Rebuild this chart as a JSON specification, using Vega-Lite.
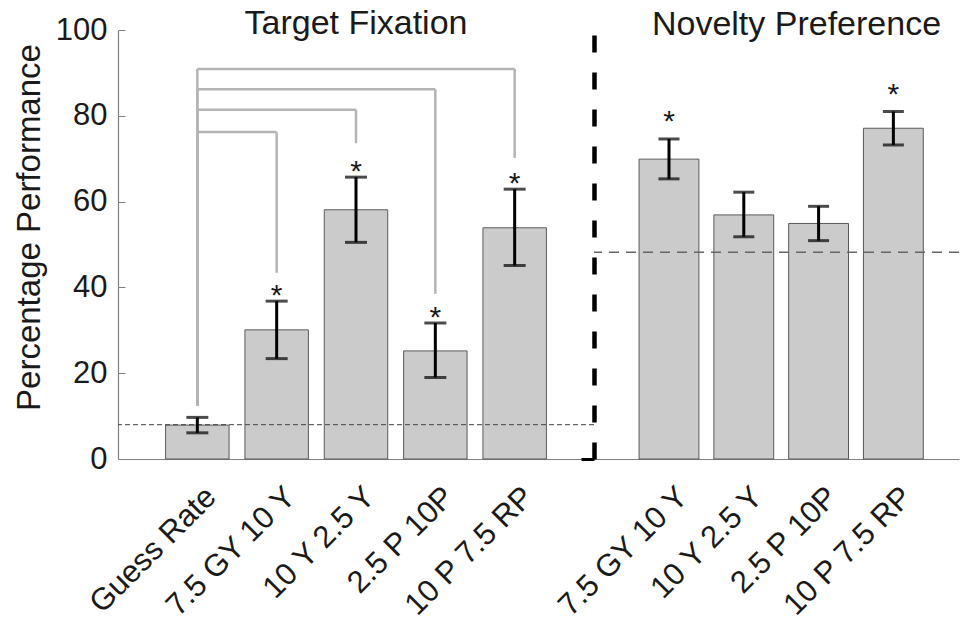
{
  "$schema": "https://vega.github.io/schema/vega-lite/v6.json",
  "padding": {"left": 12, "top": 7, "right": 0, "bottom": 0},
  "background": "white",
  "config": {
    "font": "Liberation Sans",
    "view": {"stroke": null},
    "axis": {"grid": false, "domainColor": "#808080", "domainWidth": 1.2, "labelColor": "#1a1a1a", "titleColor": "#1a1a1a", "labelFont": "Liberation Sans", "titleFont": "Liberation Sans", "titleFontWeight": "normal"},
    "title": {"font": "Liberation Sans", "fontWeight": "normal", "fontSize": 34, "color": "#1a1a1a"}
  },
  "datasets": {
    "tf": [
      {"label": "Guess Rate", "value": 7.9, "lo": 6.1, "hi": 9.7, "sig": false},
      {"label": "7.5 GY 10 Y", "value": 30.1, "lo": 23.4, "hi": 36.8, "sig": true},
      {"label": "10 Y 2.5 Y", "value": 58.1, "lo": 50.5, "hi": 65.7, "sig": true},
      {"label": "2.5 P 10P", "value": 25.2, "lo": 19.0, "hi": 31.7, "sig": true},
      {"label": "10 P 7.5 RP", "value": 53.9, "lo": 45.1, "hi": 62.9, "sig": true}
    ],
    "np": [
      {"label": "7.5 GY 10 Y", "value": 69.9, "lo": 65.3, "hi": 74.6, "sig": true},
      {"label": "10 Y 2.5 Y", "value": 56.9, "lo": 51.8, "hi": 62.2, "sig": false},
      {"label": "2.5 P 10P", "value": 54.9, "lo": 50.9, "hi": 58.9, "sig": false},
      {"label": "10 P 7.5 RP", "value": 77.1, "lo": 73.2, "hi": 81.0, "sig": true}
    ],
    "conn": [
      {"from": "Guess Rate", "to": "7.5 GY 10 Y", "level": 76.2, "end": 43.4, "fromEnd": 12.4},
      {"from": "Guess Rate", "to": "10 Y 2.5 Y", "level": 81.4, "end": 73.6, "fromEnd": 12.4},
      {"from": "Guess Rate", "to": "2.5 P 10P", "level": 86.2, "end": 38.5, "fromEnd": 12.4},
      {"from": "Guess Rate", "to": "10 P 7.5 RP", "level": 90.9, "end": 70.2, "fromEnd": 12.4}
    ],
    "guess": [{"rate": 8.0}],
    "chance": [{"rate": 48.2}]
  },
  "hconcat": [
    {
      "width": 476,
      "height": 429,
      "title": {"text": "Target Fixation", "anchor": "middle", "baseline": "alphabetic", "offset": -54},
      "layer": [
        {
          "data": {"name": "tf"},
          "mark": {"type": "bar", "fill": "#cbcbcb", "stroke": "#5a5a5a", "strokeWidth": 1},
          "encoding": {
            "x": {"field": "label", "type": "nominal", "scale": {"domain": ["Guess Rate", "7.5 GY 10 Y", "10 Y 2.5 Y", "2.5 P 10P", "10 P 7.5 RP"], "paddingInner": 0.2, "paddingOuter": 0.6},
              "axis": {"title": null, "ticks": false, "labelAngle": -45, "labelFontSize": 31, "labelPadding": 33, "labelOffset": 14, "labelAlign": "right", "labelBaseline": "middle"}},
            "y": {"field": "value", "type": "quantitative", "scale": {"domain": [0, 100], "nice": false},
              "axis": {"title": "Percentage Performance", "titleFontSize": 33, "titleX": -79, "titleY": 197, "titleAngle": -90, "titleAlign": "center", "titleBaseline": "alphabetic", "values": [0, 20, 40, 60, 80, 100], "labelFontSize": 31, "tickSize": -7, "tickColor": "#808080", "labelPadding": 18, "labelBaseline": "middle"}}
          }
        },
        {
          "data": {"name": "guess"},
          "mark": {"type": "rule", "color": "#444444", "strokeWidth": 1, "strokeDash": [5, 3]},
          "encoding": {"y": {"field": "rate", "type": "quantitative"}}
        },
        {
          "data": {"name": "conn"},
          "mark": {"type": "rule", "color": "#b4b4b4", "strokeWidth": 2.5},
          "encoding": {
            "x": {"field": "from", "type": "nominal", "scale": {"domain": ["Guess Rate", "7.5 GY 10 Y", "10 Y 2.5 Y", "2.5 P 10P", "10 P 7.5 RP"]}},
            "x2": {"field": "to"},
            "y": {"field": "level", "type": "quantitative"}
          }
        },
        {
          "data": {"name": "conn"},
          "mark": {"type": "rule", "color": "#b4b4b4", "strokeWidth": 2.5},
          "encoding": {
            "x": {"field": "to", "type": "nominal", "scale": {"domain": ["Guess Rate", "7.5 GY 10 Y", "10 Y 2.5 Y", "2.5 P 10P", "10 P 7.5 RP"]}},
            "y": {"field": "level", "type": "quantitative"},
            "y2": {"field": "end"}
          }
        },
        {
          "data": {"name": "conn"},
          "mark": {"type": "rule", "color": "#b4b4b4", "strokeWidth": 2.5},
          "encoding": {
            "x": {"field": "from", "type": "nominal", "scale": {"domain": ["Guess Rate", "7.5 GY 10 Y", "10 Y 2.5 Y", "2.5 P 10P", "10 P 7.5 RP"]}},
            "y": {"field": "level", "type": "quantitative"},
            "y2": {"field": "fromEnd"}
          }
        },
        {
          "data": {"name": "tf"},
          "mark": {"type": "rule", "color": "black", "strokeWidth": 3},
          "encoding": {
            "x": {"field": "label", "type": "nominal", "scale": {"domain": ["Guess Rate", "7.5 GY 10 Y", "10 Y 2.5 Y", "2.5 P 10P", "10 P 7.5 RP"]}},
            "y": {"field": "lo", "type": "quantitative"},
            "y2": {"field": "hi"}
          }
        },
        {
          "data": {"name": "tf"},
          "mark": {"type": "tick", "color": "black", "size": 22, "thickness": 3, "orient": "horizontal"},
          "encoding": {
            "x": {"field": "label", "type": "nominal", "scale": {"domain": ["Guess Rate", "7.5 GY 10 Y", "10 Y 2.5 Y", "2.5 P 10P", "10 P 7.5 RP"]}},
            "y": {"field": "lo", "type": "quantitative"}
          }
        },
        {
          "data": {"name": "tf"},
          "mark": {"type": "tick", "color": "black", "size": 22, "thickness": 3, "orient": "horizontal"},
          "encoding": {
            "x": {"field": "label", "type": "nominal", "scale": {"domain": ["Guess Rate", "7.5 GY 10 Y", "10 Y 2.5 Y", "2.5 P 10P", "10 P 7.5 RP"]}},
            "y": {"field": "hi", "type": "quantitative"}
          }
        },
        {
          "data": {"name": "tf"},
          "transform": [{"filter": "datum.sig"}],
          "mark": {"type": "text", "text": "*", "fontSize": 30, "color": "#1a1a1a", "baseline": "alphabetic", "dy": 4},
          "encoding": {
            "x": {"field": "label", "type": "nominal", "scale": {"domain": ["Guess Rate", "7.5 GY 10 Y", "10 Y 2.5 Y", "2.5 P 10P", "10 P 7.5 RP"]}},
            "y": {"field": "hi", "type": "quantitative"}
          }
        }
      ]
    },
    {
      "width": 365,
      "height": 429,
      "title": {"text": "Novelty Preference", "anchor": "middle", "baseline": "alphabetic", "offset": -39, "dx": 20},
      "layer": [
        {
          "data": {"name": "np"},
          "mark": {"type": "bar", "fill": "#cbcbcb", "stroke": "#5a5a5a", "strokeWidth": 1},
          "encoding": {
            "x": {"field": "label", "type": "nominal", "scale": {"domain": ["7.5 GY 10 Y", "10 Y 2.5 Y", "2.5 P 10P", "10 P 7.5 RP"], "paddingInner": 0.2, "paddingOuter": 0.54, "align": 0.558},
              "axis": {"title": null, "ticks": false, "labelAngle": -45, "labelFontSize": 31, "labelPadding": 33, "labelOffset": 14, "labelAlign": "right", "labelBaseline": "middle"}},
            "y": {"field": "value", "type": "quantitative", "scale": {"domain": [0, 100], "nice": false},
              "axis": {"title": null, "labels": false, "values": [0], "tickSize": 13, "tickWidth": 3, "tickColor": "black", "domainColor": "black", "domainWidth": 4.5, "domainDash": [17, 20]}}
          }
        },
        {
          "data": {"name": "chance"},
          "mark": {"type": "rule", "color": "#666666", "strokeWidth": 1.5, "strokeDash": [10, 7]},
          "encoding": {"y": {"field": "rate", "type": "quantitative"}}
        },
        {
          "data": {"name": "np"},
          "mark": {"type": "rule", "color": "black", "strokeWidth": 3},
          "encoding": {
            "x": {"field": "label", "type": "nominal", "scale": {"domain": ["7.5 GY 10 Y", "10 Y 2.5 Y", "2.5 P 10P", "10 P 7.5 RP"]}},
            "y": {"field": "lo", "type": "quantitative"},
            "y2": {"field": "hi"}
          }
        },
        {
          "data": {"name": "np"},
          "mark": {"type": "tick", "color": "black", "size": 21, "thickness": 3, "orient": "horizontal"},
          "encoding": {
            "x": {"field": "label", "type": "nominal", "scale": {"domain": ["7.5 GY 10 Y", "10 Y 2.5 Y", "2.5 P 10P", "10 P 7.5 RP"]}},
            "y": {"field": "lo", "type": "quantitative"}
          }
        },
        {
          "data": {"name": "np"},
          "mark": {"type": "tick", "color": "black", "size": 21, "thickness": 3, "orient": "horizontal"},
          "encoding": {
            "x": {"field": "label", "type": "nominal", "scale": {"domain": ["7.5 GY 10 Y", "10 Y 2.5 Y", "2.5 P 10P", "10 P 7.5 RP"]}},
            "y": {"field": "hi", "type": "quantitative"}
          }
        },
        {
          "data": {"name": "np"},
          "transform": [{"filter": "datum.sig"}],
          "mark": {"type": "text", "text": "*", "fontSize": 30, "color": "#1a1a1a", "baseline": "alphabetic", "dy": -8},
          "encoding": {
            "x": {"field": "label", "type": "nominal", "scale": {"domain": ["7.5 GY 10 Y", "10 Y 2.5 Y", "2.5 P 10P", "10 P 7.5 RP"]}},
            "y": {"field": "hi", "type": "quantitative"}
          }
        }
      ]
    }
  ],
  "spacing": 0,
  "bounds": "flush"
}
